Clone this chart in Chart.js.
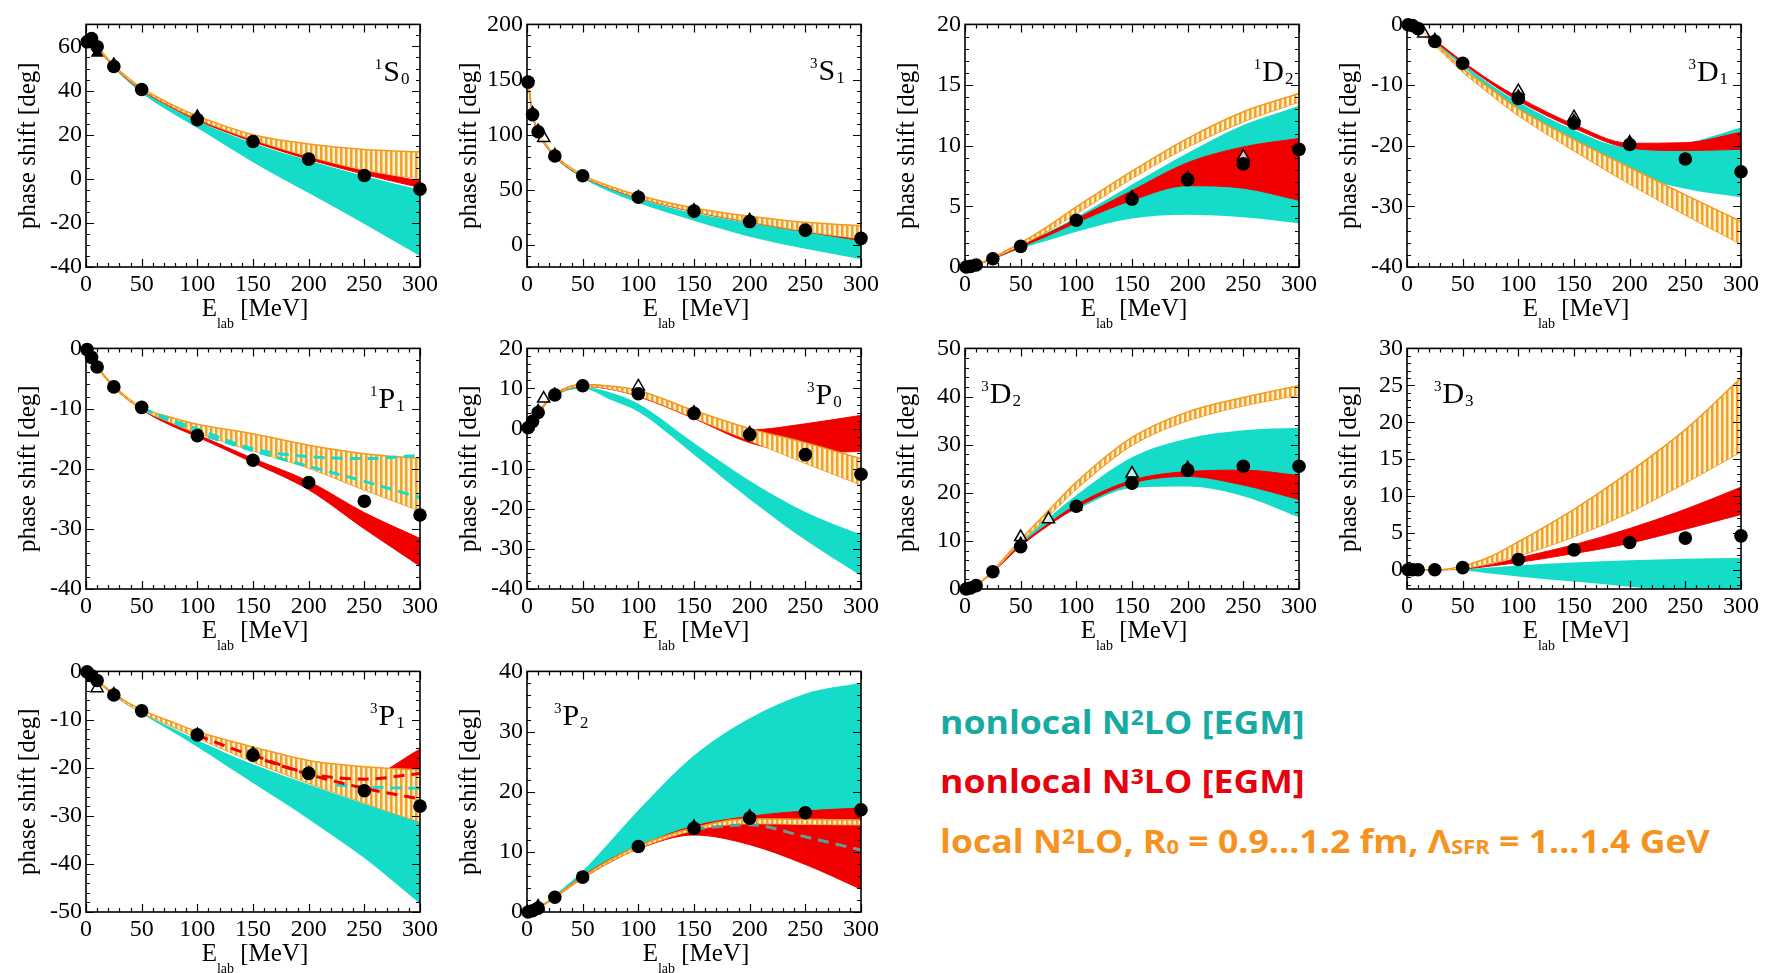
<!DOCTYPE html>
<html>
<head>
<meta charset="utf-8">
<script src="https://cdn.jsdelivr.net/npm/chart.js@4.4.1/dist/chart.umd.min.js"></script>
<style>
  html, body { margin: 0; padding: 0; background: #fff; }
  #page { position: relative; width: 1770px; height: 973px; overflow: hidden; background: #fff; }
  #page canvas { position: absolute; }
  .lg {
    position: absolute; left: 940px; white-space: nowrap;
    font-family: "Open Sans", Lato, sans-serif; font-weight: 700; font-size: 33px; line-height: 33px;
    transform: scaleX(1.08); transform-origin: 0 0;
  }
  .lg .sp { font-size: 0.64em; vertical-align: 0.42em; line-height: 0; }
  .lg .sb { font-size: 0.62em; vertical-align: -0.04em; line-height: 0; }
</style>
</head>
<body>
<div id="page">
  <div class="lg" style="top:705px; color:#17aaa3;">nonlocal N<span class="sp">2</span>LO [EGM]</div>
  <div class="lg" style="top:764px; color:#e8000c;">nonlocal N<span class="sp">3</span>LO [EGM]</div>
  <div class="lg" style="top:824px; color:#f6931f;">local N<span class="sp">2</span>LO, R<span class="sb">0</span> = 0.9...1.2 fm, Λ<span class="sb">SFR</span> = 1...1.4 GeV</div>
</div>
<script>
//---------------------------------------
// Global
//---------------------------------------

const COL_LEFT = [86, 527, 965, 1407];
const ROW_TOP = [18, 342, 665];
const ROW_H = [249, 247, 247];
const PLOT_W = 339;
const PAD_LEFT = 86;
const PAD_TOP = 12;
const PAD_RIGHT = 16;
const PAD_BOTTOM = 68;

const SERIF = '"Liberation Serif", "Times New Roman", serif';

const C_CYAN = '#14dcc8';
const C_RED = '#f20000';
const C_ORANGE = '#f0a32c';
const C_ORANGE_LINE = '#f39a1e';
const C_HATCH_BG = '#fff1cf';


//---------------------------------------
// Data
//---------------------------------------

// エネルギー [MeV]
const BAND_E = [1, 5, 10, 25, 50, 75, 100, 150, 200, 250, 300];
const PWA_E = [1, 5, 10, 25, 50, 100, 150, 200, 250, 300];
const X_TICKS = [0, 50, 100, 150, 200, 250, 300];

// 1S0
const y_lim_1S0 = [-40, 70];
const y_ticks_1S0 = [-40, -20, 0, 20, 40, 60];
const pwa_1S0 = [62.1, 63.6, 59.9, 50.9, 40.5, 26.8, 16.9, 8.9, 1.5, -4.7];
const tri_1S0 = [[1, 62.5], [5, 61.0], [10, 57.0], [25, 52.0], [100, 28.5]];
const n2lo_hi_1S0 = [62.0, 63.5, 59.8, 50.8, 40.3, 32.5, 26.2, 16.2, 8.3, 1.3, -5.0];
const n2lo_lo_1S0 = [62.0, 63.5, 59.6, 50.2, 38.8, 30.5, 23.0, 7.5, -6.5, -20.5, -35.0];
const n3lo_hi_1S0 = [62.2, 63.7, 60.1, 51.2, 40.8, 33.5, 27.3, 17.6, 10.0, 3.8, -1.0];
const n3lo_lo_1S0 = [61.8, 63.3, 59.6, 50.6, 40.2, 32.8, 26.5, 16.8, 8.8, 2.0, -4.0];
const loc_hi_1S0 = [62.3, 63.8, 60.3, 51.5, 41.2, 34.2, 28.5, 20.0, 15.8, 13.3, 12.2];
const loc_lo_1S0 = [62.0, 63.5, 59.9, 50.9, 40.6, 33.3, 27.2, 17.8, 10.2, 4.0, 0.0];

// 3S1
const y_lim_3S1 = [-20, 200];
const y_ticks_3S1 = [0, 50, 100, 150, 200];
const pwa_3S1 = [147.7, 118.2, 102.6, 80.6, 62.8, 43.2, 30.7, 21.2, 13.4, 6.0];
const tri_3S1 = [[5, 120.0], [10, 104.0], [25, 82.0], [100, 44.0], [150, 32.0], [200, 23.0]];
const tri_open_3S1 = [[15, 97.0]];
const n2lo_hi_3S1 = [147.0, 118.0, 102.0, 80.0, 62.0, 51.0, 42.0, 29.0, 20.0, 12.0, 4.5];
const n2lo_lo_3S1 = [147.0, 118.0, 102.0, 79.5, 60.5, 48.0, 38.0, 22.0, 7.5, -3.5, -13.0];
const n3lo_hi_3S1 = [148.0, 118.5, 103.0, 81.0, 63.0, 52.0, 43.5, 31.5, 22.5, 14.5, 8.0];
const n3lo_lo_3S1 = [147.0, 117.5, 102.0, 80.0, 62.0, 51.0, 42.5, 30.0, 20.5, 12.0, 4.0];
const loc_hi_3S1 = [148.5, 119.0, 103.5, 81.5, 63.5, 53.0, 45.0, 33.5, 26.0, 20.5, 17.5];
const loc_lo_3S1 = [147.5, 118.0, 102.5, 80.5, 62.5, 51.5, 43.0, 30.5, 21.0, 12.5, 5.5];

// 1D2
const y_lim_1D2 = [0, 20];
const y_ticks_1D2 = [0, 5, 10, 15, 20];
const pwa_1D2 = [0.0, 0.05, 0.16, 0.68, 1.7, 3.85, 5.6, 7.2, 8.5, 9.7];
const tri_1D2 = [[150, 5.8], [200, 7.4]];
const tri_open_1D2 = [[250, 9.1]];
const n2lo_hi_1D2 = [0.0, 0.05, 0.17, 0.72, 1.8, 2.9, 4.1, 6.8, 9.4, 11.7, 13.3];
const n2lo_lo_1D2 = [0.0, 0.05, 0.15, 0.62, 1.5, 2.2, 2.9, 4.0, 4.3, 4.1, 3.6];
const n3lo_hi_1D2 = [0.0, 0.05, 0.17, 0.72, 1.78, 2.8, 3.95, 6.3, 8.6, 9.9, 10.6];
const n3lo_lo_1D2 = [0.0, 0.05, 0.15, 0.66, 1.65, 2.6, 3.65, 5.5, 6.7, 6.5, 5.5];
const loc_hi_1D2 = [0.0, 0.05, 0.18, 0.78, 2.0, 3.4, 4.95, 7.9, 10.6, 12.8, 14.3];
const loc_lo_1D2 = [0.0, 0.05, 0.16, 0.72, 1.8, 3.0, 4.4, 7.3, 9.9, 12.0, 13.6];

// 3D1
const y_lim_3D1 = [-40, 0];
const y_ticks_3D1 = [-40, -30, -20, -10, 0];
const pwa_3D1 = [-0.05, -0.2, -0.7, -2.8, -6.4, -12.2, -16.3, -19.8, -22.2, -24.3];
const tri_3D1 = [[25, -2.5], [100, -11.8], [150, -15.8], [200, -19.3]];
const tri_open_3D1 = [[15, -1.5], [100, -11.0], [150, -15.3]];
const n2lo_hi_3D1 = [0.0, -0.2, -0.7, -2.8, -6.5, -9.9, -12.8, -17.4, -20.3, -19.6, -17.0];
const n2lo_lo_3D1 = [0.0, -0.2, -0.75, -3.0, -7.0, -10.7, -14.1, -19.5, -24.4, -27.1, -28.5];
const n3lo_hi_3D1 = [0.0, -0.2, -0.65, -2.6, -6.1, -9.3, -12.0, -16.5, -19.6, -19.5, -17.8];
const n3lo_lo_3D1 = [0.0, -0.2, -0.7, -2.8, -6.4, -9.7, -12.6, -17.1, -20.4, -20.8, -20.6];
const loc_hi_3D1 = [0.0, -0.2, -0.75, -3.1, -7.3, -10.6, -13.9, -19.0, -23.6, -28.1, -32.5];
const loc_lo_3D1 = [0.0, -0.22, -0.8, -3.4, -7.8, -11.5, -15.0, -20.8, -26.3, -31.4, -36.2];

// 1P1
const y_lim_1P1 = [-40, 0];
const y_ticks_1P1 = [-40, -30, -20, -10, 0];
const pwa_1P1 = [-0.2, -1.5, -3.1, -6.4, -9.8, -14.5, -18.6, -22.3, -25.4, -27.7];
const n3lo_hi_1P1 = [-0.2, -1.5, -3.0, -6.3, -9.9, -12.3, -14.3, -18.3, -22.1, -27.3, -31.6];
const n3lo_lo_1P1 = [-0.2, -1.5, -3.1, -6.5, -10.2, -12.7, -14.7, -19.0, -23.5, -30.0, -36.2];
const loc_hi_1P1 = [-0.2, -1.5, -3.0, -6.2, -9.8, -11.4, -12.6, -14.2, -16.1, -17.5, -18.3];
const loc_lo_1P1 = [-0.2, -1.5, -3.1, -6.4, -10.1, -12.2, -14.0, -17.0, -19.9, -23.5, -27.0];
const n2lo_dash_a_1P1 = [[50, -9.9], [75, -11.8], [100, -13.4], [150, -16.7], [200, -18.0], [250, -18.3], [300, -17.8]];
const n2lo_dash_b_1P1 = [[50, -10.0], [75, -12.0], [100, -14.0], [150, -17.0], [200, -19.6], [250, -22.1], [300, -24.8]];

// 3P0
const y_lim_3P0 = [-40, 20];
const y_ticks_3P0 = [-40, -30, -20, -10, 0, 10, 20];
const pwa_3P0 = [0.2, 1.8, 4.0, 8.4, 10.7, 8.7, 3.8, -1.5, -6.5, -11.4];
const tri_3P0 = [[10, 4.5], [25, 8.6], [150, 4.2], [200, -1.0]];
const tri_open_3P0 = [[15, 7.5], [100, 10.5]];
const n2lo_hi_3P0 = [0.1, 1.6, 3.8, 8.2, 10.4, 9.0, 6.2, -3.6, -13.0, -20.8, -26.5];
const n2lo_lo_3P0 = [0.1, 1.6, 3.7, 8.0, 10.0, 7.2, 4.2, -6.5, -17.6, -27.8, -36.7];
const n3lo_hi_3P0 = [0.1, 1.7, 4.0, 8.6, 11.0, 10.5, 9.0, 4.2, -0.3, 1.2, 3.3];
const n3lo_lo_3P0 = [0.1, 1.5, 3.7, 8.2, 10.5, 9.8, 8.0, 2.5, -3.5, -6.0, -5.7];
const loc_hi_3P0 = [0.1, 1.7, 4.0, 8.6, 11.0, 10.6, 9.5, 4.5, 0.0, -3.5, -7.5];
const loc_lo_3P0 = [0.1, 1.6, 3.8, 8.3, 10.6, 9.9, 8.2, 2.7, -3.0, -8.6, -14.0];

// 3D2
const y_lim_3D2 = [0, 50];
const y_ticks_3D2 = [0, 10, 20, 30, 40, 50];
const pwa_3D2 = [0.0, 0.2, 0.7, 3.6, 8.8, 17.2, 22.0, 24.7, 25.5, 25.5];
const tri_3D2 = [[50, 9.5], [100, 17.0], [200, 25.3]];
const tri_open_3D2 = [[50, 10.8], [75, 14.5], [150, 24.0]];
const n2lo_hi_3D2 = [0.0, 0.2, 0.7, 3.7, 9.6, 14.8, 19.5, 27.4, 31.3, 33.0, 33.5];
const n2lo_lo_3D2 = [0.0, 0.2, 0.7, 3.6, 9.2, 13.5, 16.5, 21.0, 21.3, 19.3, 14.9];
const n3lo_hi_3D2 = [0.0, 0.2, 0.75, 3.7, 9.2, 13.6, 17.5, 22.6, 24.4, 24.7, 23.6];
const n3lo_lo_3D2 = [0.0, 0.2, 0.7, 3.5, 8.9, 13.2, 16.9, 22.0, 23.4, 21.6, 18.6];
const loc_hi_3D2 = [0.0, 0.2, 0.75, 3.8, 10.3, 16.3, 22.2, 31.5, 36.8, 39.8, 42.3];
const loc_lo_3D2 = [0.0, 0.2, 0.7, 3.6, 9.8, 15.2, 20.8, 29.9, 35.0, 38.1, 40.3];

// 3D3
const y_lim_3D3 = [-2.6, 30];
const y_ticks_3D3 = [0, 5, 10, 15, 20, 25, 30];
const pwa_3D3 = [0.0, 0.0, 0.0, 0.0, 0.3, 1.4, 2.7, 3.7, 4.3, 4.6];
const n2lo_hi_3D3 = [0.0, 0.0, 0.0, 0.0, 0.05, 0.3, 0.6, 1.0, 1.3, 1.5, 1.6];
const n2lo_lo_3D3 = [0.0, 0.0, 0.0, 0.0, -0.1, -0.5, -0.9, -1.6, -2.3, -3.0, -3.6];
const n3lo_hi_3D3 = [0.0, 0.0, 0.0, 0.0, 0.15, 0.7, 1.6, 3.4, 5.6, 8.2, 11.2];
const n3lo_lo_3D3 = [0.0, 0.0, 0.0, 0.0, 0.1, 0.5, 1.0, 2.2, 3.6, 5.5, 7.5];
const loc_hi_3D3 = [0.0, 0.0, 0.0, 0.0, 0.5, 1.8, 3.8, 8.2, 13.3, 19.0, 26.0];
const loc_lo_3D3 = [0.0, 0.0, 0.0, 0.0, 0.2, 0.9, 1.9, 4.5, 7.8, 11.8, 16.0];

// 3P1
const y_lim_3P1 = [-50, 0];
const y_ticks_3P1 = [-50, -40, -30, -20, -10, 0];
const pwa_3P1 = [-0.1, -0.9, -1.9, -4.9, -8.2, -13.2, -17.4, -21.2, -24.8, -28.0];
const tri_3P1 = [[25, -4.6], [100, -13.0], [150, -17.0], [200, -21.0]];
const tri_open_3P1 = [[10, -3.5]];
const n2lo_hi_3P1 = [-0.1, -0.9, -2.0, -5.0, -8.6, -11.5, -14.3, -19.3, -23.5, -27.5, -31.3];
const n2lo_lo_3P1 = [-0.1, -0.9, -2.0, -5.1, -8.8, -12.2, -15.7, -23.2, -30.7, -38.8, -48.3];
const n3lo_hi_3P1 = [-0.1, -0.9, -1.9, -4.8, -8.1, -10.8, -13.2, -17.5, -21.0, -21.9, -16.2];
const n3lo_lo_3P1 = [-0.1, -0.9, -2.0, -4.9, -8.3, -11.0, -13.5, -17.9, -21.6, -23.0, -20.5];
const loc_hi_3P1 = [-0.1, -0.8, -1.8, -4.6, -8.0, -10.3, -12.5, -15.7, -18.5, -19.8, -20.5];
const loc_lo_3P1 = [-0.1, -0.9, -2.0, -4.9, -8.5, -11.2, -13.8, -18.8, -23.2, -27.3, -31.3];
const n3lo_dash_a_3P1 = [[100, -13.3], [150, -17.6], [200, -21.4], [250, -24.3], [300, -26.5]];
const n3lo_dash_b_3P1 = [[150, -17.4], [200, -21.2], [250, -22.4], [300, -21.2]];
const n2lo_dash_3P1 = [[225, -23.6], [250, -24.0], [275, -24.2], [300, -24.3]];

// 3P2
const y_lim_3P2 = [0, 40];
const y_ticks_3P2 = [0, 10, 20, 30, 40];
const pwa_3P2 = [0.0, 0.2, 0.65, 2.45, 5.8, 10.9, 13.9, 15.6, 16.5, 17.0];
const tri_3P2 = [[150, 14.3], [200, 16.0]];
const tri_open_3P2 = [[10, 0.9]];
const n2lo_hi_3P2 = [0.0, 0.2, 0.7, 2.8, 6.8, 11.8, 16.9, 26.0, 32.2, 36.3, 38.1];
const n2lo_lo_3P2 = [0.0, 0.2, 0.65, 2.4, 5.6, 8.5, 10.7, 13.6, 14.5, 12.5, 10.3];
const n3lo_hi_3P2 = [0.0, 0.2, 0.7, 2.5, 6.0, 8.8, 11.0, 14.3, 15.9, 16.8, 17.3];
const n3lo_lo_3P2 = [0.0, 0.2, 0.6, 2.4, 5.6, 8.3, 10.5, 12.8, 11.2, 7.9, 3.8];
const loc_hi_3P2 = [0.0, 0.2, 0.7, 2.5, 5.9, 8.7, 11.0, 14.0, 15.5, 15.4, 15.3];
const loc_lo_3P2 = [0.0, 0.2, 0.65, 2.4, 5.7, 8.4, 10.6, 13.6, 14.7, 14.6, 14.5];
const n2lo_dash_3P2 = [[150, 13.8], [200, 14.5], [250, 12.5], [300, 10.3]];


//---------------------------------------
// Layout
//---------------------------------------

// パネル配置 (row, col), 部分波ラベル, y軸の副目盛
const PANELS = [
  {name: '1S0', row: 0, col: 0, sup: '1', main: 'S', sub: '0', lab_x: 0.89, lab_dy: 57, y_minor: 5,
   y_lim: y_lim_1S0, y_ticks: y_ticks_1S0, pwa: pwa_1S0, tri: tri_1S0,
   n2lo: [n2lo_hi_1S0, n2lo_lo_1S0], n3lo: [n3lo_hi_1S0, n3lo_lo_1S0], loc: [loc_hi_1S0, loc_lo_1S0]},
  {name: '3S1', row: 0, col: 1, sup: '3', main: 'S', sub: '1', lab_x: 0.873, lab_dy: 56, y_minor: 10,
   y_lim: y_lim_3S1, y_ticks: y_ticks_3S1, pwa: pwa_3S1, tri: tri_3S1, tri_open: tri_open_3S1,
   n2lo: [n2lo_hi_3S1, n2lo_lo_3S1], n3lo: [n3lo_hi_3S1, n3lo_lo_3S1], loc: [loc_hi_3S1, loc_lo_3S1]},
  {name: '1D2', row: 0, col: 2, sup: '1', main: 'D', sub: '2', lab_x: 0.89, lab_dy: 57, y_minor: 1,
   y_lim: y_lim_1D2, y_ticks: y_ticks_1D2, pwa: pwa_1D2, tri: tri_1D2, tri_open: tri_open_1D2,
   n2lo: [n2lo_hi_1D2, n2lo_lo_1D2], n3lo: [n3lo_hi_1D2, n3lo_lo_1D2], loc: [loc_hi_1D2, loc_lo_1D2]},
  {name: '3D1', row: 0, col: 3, sup: '3', main: 'D', sub: '1', lab_x: 0.868, lab_dy: 57, y_minor: 2,
   y_lim: y_lim_3D1, y_ticks: y_ticks_3D1, pwa: pwa_3D1, tri: tri_3D1, tri_open: tri_open_3D1,
   n2lo: [n2lo_hi_3D1, n2lo_lo_3D1], n3lo: [n3lo_hi_3D1, n3lo_lo_3D1], loc: [loc_hi_3D1, loc_lo_3D1]},
  {name: '1P1', row: 1, col: 0, sup: '1', main: 'P', sub: '1', lab_x: 0.876, lab_dy: 60, y_minor: 2,
   y_lim: y_lim_1P1, y_ticks: y_ticks_1P1, pwa: pwa_1P1,
   n3lo: [n3lo_hi_1P1, n3lo_lo_1P1], loc: [loc_hi_1P1, loc_lo_1P1],
   dashes: [{data: n2lo_dash_a_1P1, color: C_CYAN}, {data: n2lo_dash_b_1P1, color: C_CYAN}]},
  {name: '3P0', row: 1, col: 1, sup: '3', main: 'P', sub: '0', lab_x: 0.864, lab_dy: 56, y_minor: 2,
   y_lim: y_lim_3P0, y_ticks: y_ticks_3P0, pwa: pwa_3P0, tri: tri_3P0, tri_open: tri_open_3P0,
   n2lo: [n2lo_hi_3P0, n2lo_lo_3P0], n3lo: [n3lo_hi_3P0, n3lo_lo_3P0], loc: [loc_hi_3P0, loc_lo_3P0]},
  {name: '3D2', row: 1, col: 2, sup: '3', main: 'D', sub: '2', lab_x: 0.074, lab_dy: 55, y_minor: 2,
   y_lim: y_lim_3D2, y_ticks: y_ticks_3D2, pwa: pwa_3D2, tri: tri_3D2, tri_open: tri_open_3D2,
   n2lo: [n2lo_hi_3D2, n2lo_lo_3D2], n3lo: [n3lo_hi_3D2, n3lo_lo_3D2], loc: [loc_hi_3D2, loc_lo_3D2]},
  {name: '3D3', row: 1, col: 3, sup: '3', main: 'D', sub: '3', lab_x: 0.106, lab_dy: 55, y_minor: 1,
   y_lim: y_lim_3D3, y_ticks: y_ticks_3D3, pwa: pwa_3D3,
   n2lo: [n2lo_hi_3D3, n2lo_lo_3D3], n3lo: [n3lo_hi_3D3, n3lo_lo_3D3], loc: [loc_hi_3D3, loc_lo_3D3]},
  {name: '3P1', row: 2, col: 0, sup: '3', main: 'P', sub: '1', lab_x: 0.876, lab_dy: 54, y_minor: 2,
   y_lim: y_lim_3P1, y_ticks: y_ticks_3P1, pwa: pwa_3P1, tri: tri_3P1, tri_open: tri_open_3P1,
   n2lo: [n2lo_hi_3P1, n2lo_lo_3P1], n3lo: [n3lo_hi_3P1, n3lo_lo_3P1], loc: [loc_hi_3P1, loc_lo_3P1],
   dashes: [{data: n3lo_dash_a_3P1, color: C_RED}, {data: n3lo_dash_b_3P1, color: C_RED}, {data: n2lo_dash_3P1, color: C_CYAN}]},
  {name: '3P2', row: 2, col: 1, sup: '3', main: 'P', sub: '2', lab_x: 0.106, lab_dy: 54, y_minor: 2,
   y_lim: y_lim_3P2, y_ticks: y_ticks_3P2, pwa: pwa_3P2, tri: tri_3P2, tri_open: tri_open_3P2,
   n2lo: [n2lo_hi_3P2, n2lo_lo_3P2], n3lo: [n3lo_hi_3P2, n3lo_lo_3P2], loc: [loc_hi_3P2, loc_lo_3P2],
   dashes: [{data: n2lo_dash_3P2, color: '#5d9e9c'}]}
];


//---------------------------------------
// Plugin
//---------------------------------------

// 枠と内向きの目盛 (上下左右)
const frame_plugin = {
  id: 'frame_ticks',
  afterDatasetsDraw(chart, args, opts) {
    const {ctx, chartArea: a} = chart;
    const x = chart.scales.x, y = chart.scales.y;
    ctx.save();
    ctx.strokeStyle = '#000';
    ctx.lineWidth = 1.2;
    ctx.beginPath();
    const nx = Math.round((x.max - x.min) / opts.x_minor);
    for (let k = 0; k <= nx; k++) {
      const v = x.min + k * opts.x_minor;
      const len = (k % (opts.x_major / opts.x_minor) === 0) ? 8 : 4;
      const px = Math.round(x.getPixelForValue(v)) + 0.5;
      ctx.moveTo(px, a.bottom); ctx.lineTo(px, a.bottom - len);
      ctx.moveTo(px, a.top); ctx.lineTo(px, a.top + len);
    }
    const k0 = Math.ceil(y.min / opts.y_minor - 1e-9);
    const k1 = Math.floor(y.max / opts.y_minor + 1e-9);
    const ratio = Math.round(opts.y_major / opts.y_minor);
    for (let k = k0; k <= k1; k++) {
      const v = k * opts.y_minor;
      const len = (((k % ratio) + ratio) % ratio === 0) ? 8 : 4;
      const py = Math.round(y.getPixelForValue(v)) + 0.5;
      ctx.moveTo(a.left, py); ctx.lineTo(a.left + len, py);
      ctx.moveTo(a.right, py); ctx.lineTo(a.right - len, py);
    }
    ctx.stroke();
    ctx.lineWidth = 1.6;
    ctx.strokeRect(a.left, a.top, a.right - a.left, a.bottom - a.top);
    ctx.restore();
  }
};

// 添字付きテキスト
function draw_parts(ctx, parts, x0, base) {
  let x = x0;
  for (const p of parts) {
    ctx.font = p.size + 'px ' + SERIF;
    ctx.fillText(p.text, x, base + p.dy);
    x += ctx.measureText(p.text).width + (p.gap || 0);
  }
  return x - x0;
}

function parts_width(ctx, parts) {
  let w = 0;
  for (const p of parts) {
    ctx.font = p.size + 'px ' + SERIF;
    w += ctx.measureText(p.text).width + (p.gap || 0);
  }
  return w;
}

// x軸タイトル E_lab [MeV] と部分波ラベル
const label_plugin = {
  id: 'panel_labels',
  afterDraw(chart, args, opts) {
    const {ctx, chartArea: a} = chart;
    ctx.save();
    ctx.fillStyle = '#000';
    ctx.textBaseline = 'alphabetic';
    ctx.textAlign = 'left';

    const title = [
      {text: 'E', size: 25, dy: 0},
      {text: 'lab', size: 14, dy: 12},
      {text: ' [MeV]', size: 25, dy: 0}
    ];
    const tw = parts_width(ctx, title);
    draw_parts(ctx, title, (a.left + a.right) / 2 - tw / 2 + 2, a.bottom + 49);

    const base = a.top + opts.lab_dy;
    const lx = a.left + opts.lab_x * (a.right - a.left);
    ctx.font = '15px ' + SERIF;
    const sw = ctx.measureText(opts.sup).width;
    ctx.fillText(opts.sup, lx - sw - 1, base - 12);
    ctx.font = '30px ' + SERIF;
    const mw = ctx.measureText(opts.main).width;
    ctx.fillText(opts.main, lx, base);
    ctx.font = '17px ' + SERIF;
    ctx.fillText(opts.sub, lx + mw + 1, base + 3);
    ctx.restore();
  }
};


//---------------------------------------
// Class
//---------------------------------------

class phase_panel {
  chart_obj = null;

  constructor(layout, hatch) {
    this.layout = layout;
    this.hatch = hatch;
  }

  static to_xy(xs, ys) {
    return xs.map((x, i) => ({x: x, y: ys[i]}));
  }

  static pairs_xy(p) {
    return p.map(v => ({x: v[0], y: v[1]}));
  }

  /**
   * @summary バンド (上限 fill '+1' → 下限) を追加
   */
  push_band(ds, edges, line_color, line_width, fill_color) {
    ds.push({
      data: phase_panel.to_xy(BAND_E, edges[0]),
      borderColor: line_color, borderWidth: line_width,
      backgroundColor: fill_color, fill: '+1',
      pointRadius: 0, cubicInterpolationMode: 'monotone'
    });
    ds.push({
      data: phase_panel.to_xy(BAND_E, edges[1]),
      borderColor: line_color, borderWidth: line_width,
      fill: false, pointRadius: 0, cubicInterpolationMode: 'monotone'
    });
  }

  make_datasets() {
    const L = this.layout;
    const ds = [];

    // PWA (丸), 他の解析 (三角)
    ds.push({
      data: phase_panel.to_xy(PWA_E, L.pwa), showLine: false, clip: false,
      pointStyle: 'circle', pointRadius: 6.8,
      pointBackgroundColor: '#000', pointBorderColor: '#000', pointBorderWidth: 0
    });
    if (L.tri) {
      ds.push({
        data: phase_panel.pairs_xy(L.tri), showLine: false, clip: false,
        pointStyle: 'triangle', pointRadius: 7.5,
        pointBackgroundColor: '#000', pointBorderColor: '#000', pointBorderWidth: 0
      });
    }
    if (L.tri_open) {
      ds.push({
        data: phase_panel.pairs_xy(L.tri_open), showLine: false, clip: false,
        pointStyle: 'triangle', pointRadius: 7,
        pointBackgroundColor: 'rgba(255,255,255,0.7)', pointBorderColor: '#000', pointBorderWidth: 1.5
      });
    }

    // 破線
    (L.dashes || []).forEach(d => {
      ds.push({
        data: phase_panel.pairs_xy(d.data), borderColor: d.color, borderWidth: 3,
        borderDash: [11, 7], fill: false, pointRadius: 0, cubicInterpolationMode: 'monotone'
      });
    });

    // local N2LO (ハッチ) → N3LO (赤) → N2LO (シアン)
    if (L.loc) this.push_band(ds, L.loc, C_ORANGE_LINE, 1.5, this.hatch);
    if (L.n3lo) this.push_band(ds, L.n3lo, C_RED, 1, C_RED);
    if (L.n2lo) this.push_band(ds, L.n2lo, C_CYAN, 0, C_CYAN);
    return ds;
  }

  draw(parent) {
    const L = this.layout;
    const plot_left = COL_LEFT[L.col];
    const plot_top = ROW_TOP[L.row];
    const plot_h = ROW_H[L.row];

    // canvasサイズ調整
    const canvas = document.createElement('canvas');
    canvas.width = PAD_LEFT + PLOT_W + PAD_RIGHT;
    canvas.height = PAD_TOP + plot_h + PAD_BOTTOM;
    canvas.style.left = (plot_left - PAD_LEFT) + 'px';
    canvas.style.top = (plot_top - PAD_TOP) + 'px';
    parent.appendChild(canvas);

    const tick_font = {family: SERIF, size: 24};
    const y_step = L.y_ticks[1] - L.y_ticks[0];

    this.chart_obj = new Chart(canvas, {
      type: 'line',
      data: {datasets: this.make_datasets()},
      plugins: [frame_plugin, label_plugin],
      options: {
        responsive: false,
        animation: false,
        events: [],
        layout: {padding: {top: PAD_TOP, right: PAD_RIGHT, left: 0, bottom: 0}},
        plugins: {
          legend: {display: false},
          tooltip: {enabled: false},
          frame_ticks: {x_major: 50, x_minor: 10, y_major: y_step, y_minor: L.y_minor},
          panel_labels: {sup: L.sup, main: L.main, sub: L.sub, lab_x: L.lab_x, lab_dy: L.lab_dy}
        },
        scales: {
          x: {
            type: 'linear', min: 0, max: 300,
            afterBuildTicks: s => { s.ticks = X_TICKS.map(v => ({value: v})); },
            afterFit: s => { s.height = PAD_BOTTOM; },
            ticks: {font: tick_font, color: '#000', padding: 3, maxRotation: 0, autoSkip: false},
            grid: {display: false, drawTicks: false},
            border: {display: false}
          },
          y: {
            type: 'linear', min: L.y_lim[0], max: L.y_lim[1],
            afterBuildTicks: s => { s.ticks = L.y_ticks.map(v => ({value: v})); },
            afterFit: s => { s.width = PAD_LEFT; },
            ticks: {font: tick_font, color: '#000', padding: 4, autoSkip: false},
            grid: {display: false, drawTicks: false},
            border: {display: false},
            title: {
              display: true, text: 'phase shift [deg]', color: '#000',
              font: {family: SERIF, size: 25}, padding: {top: 13, bottom: 0}
            }
          }
        }
      }
    });
  }
}


//---------------------------------------
// Main
//---------------------------------------

// 縦縞ハッチのパターン
function make_hatch() {
  const c = document.createElement('canvas');
  c.width = 5; c.height = 5;
  const g = c.getContext('2d');
  g.fillStyle = C_HATCH_BG;
  g.fillRect(0, 0, 5, 5);
  g.fillStyle = C_ORANGE;
  g.fillRect(0, 0, 2, 5);
  g.fillStyle = '#f7c979';
  g.fillRect(2, 0, 1, 5);
  return g.createPattern(c, 'repeat');
}

const page = document.getElementById('page');
const hatch = make_hatch();
PANELS.forEach(p => new phase_panel(p, hatch).draw(page));
</script>
</body>
</html>
